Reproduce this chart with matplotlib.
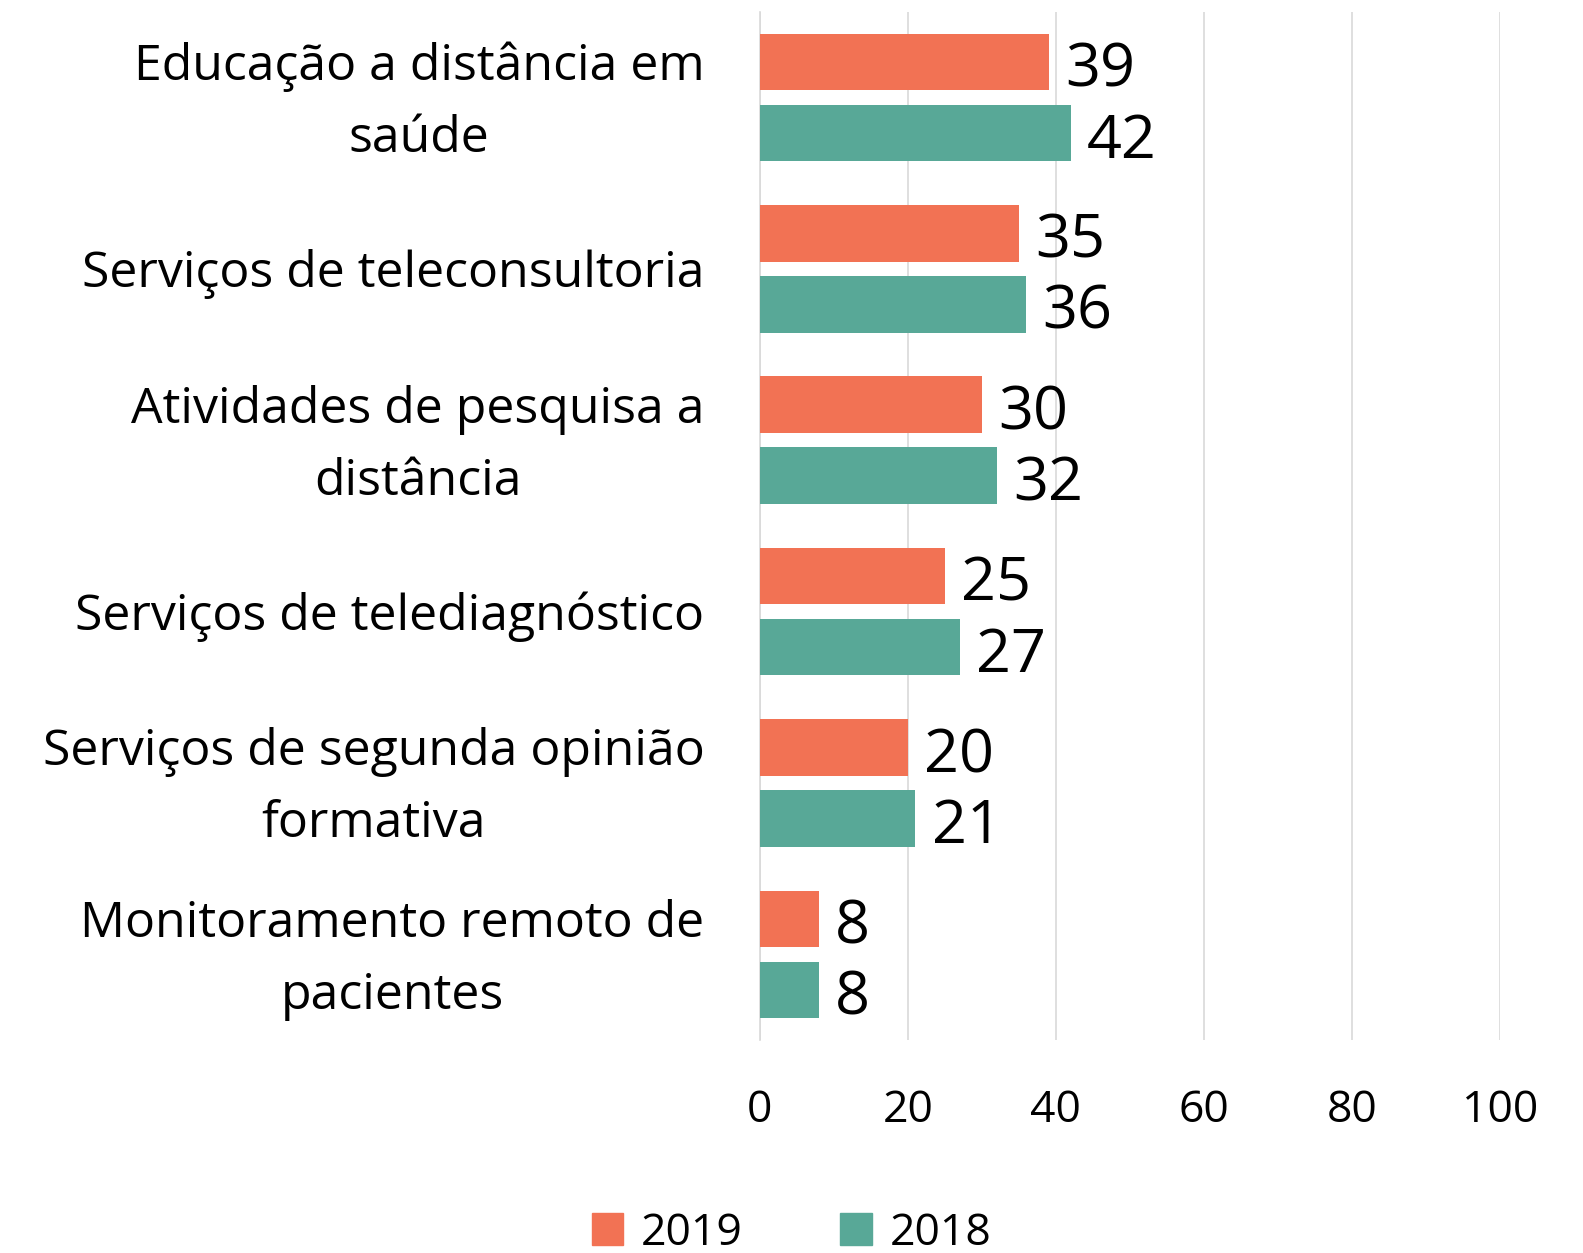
import numpy as np
import matplotlib.pyplot as plt
import matplotlib.transforms as mtransforms
from matplotlib.patches import Patch

categories = [
    "Educação a distância em\nsaúde",
    "Serviços de teleconsultoria",
    "Atividades de pesquisa a\ndistância",
    "Serviços de telediagnóstico",
    "Serviços de segunda opinião\nformativa",
    "Monitoramento remoto de\npacientes",
]
values_2019 = [39, 35, 30, 25, 20, 8]
values_2018 = [42, 36, 32, 27, 21, 8]
series_labels = ["2019", "2018"]
xticks = [0, 20, 40, 60, 80, 100]

color_2019 = "#F27254"
color_2018 = "#58A897"

plt.rcParams['font.family'] = ['Open Sans', 'DejaVu Sans']

fig = plt.figure(figsize=(15.83, 12.53), dpi=100)
ax = fig.add_axes([0.480, 0.170, 0.4676, 0.8206])

y = np.arange(len(categories))
h = 0.33
off = 0.207
ax.barh(y - off, values_2019, height=h, color=color_2019, zorder=3)
ax.barh(y + off, values_2018, height=h, color=color_2018, zorder=3)

for yi, v in zip(y - off, values_2019):
    ax.text(v + 2.2, yi + 0.05, str(v), va="center", ha="left", fontsize=44)
for yi, v in zip(y + off, values_2018):
    ax.text(v + 2.2, yi + 0.05, str(v), va="center", ha="left", fontsize=44)

ax.set_xlim(0, 100)
ax.set_ylim(len(categories) - 0.5, -0.5)
ax.set_xticks(xticks)
ax.set_xticklabels([str(t) for t in xticks], fontsize=32)
ax.set_yticks(y)
ax.set_yticklabels(categories, fontsize=36, multialignment="center",
                   linespacing=1.6, va="center")
ax.tick_params(axis="both", length=0)
ax.tick_params(axis="x", pad=35)
ax.tick_params(axis="y", pad=40)

# nudge category labels down a little
shift = mtransforms.ScaledTranslation(0, -4 / 72, fig.dpi_scale_trans)
for lab in ax.get_yticklabels():
    lab.set_transform(lab.get_transform() + shift)

ax.grid(axis="x", color="#D9D9D9", linewidth=1.2, zorder=0)
for s in ["top", "right", "bottom"]:
    ax.spines[s].set_visible(False)
ax.spines["left"].set_color("#D9D9D9")
ax.spines["left"].set_linewidth(1.2)

handles = [Patch(color=color_2019), Patch(color=color_2018)]
fig.legend(handles, series_labels, loc="lower center", bbox_to_anchor=(0.5, -0.034),
           ncol=2, frameon=False, fontsize=32, handlelength=0.7, handleheight=0.7,
           handletextpad=0.4, columnspacing=2.2)

fig.savefig("out.png", dpi=100)
